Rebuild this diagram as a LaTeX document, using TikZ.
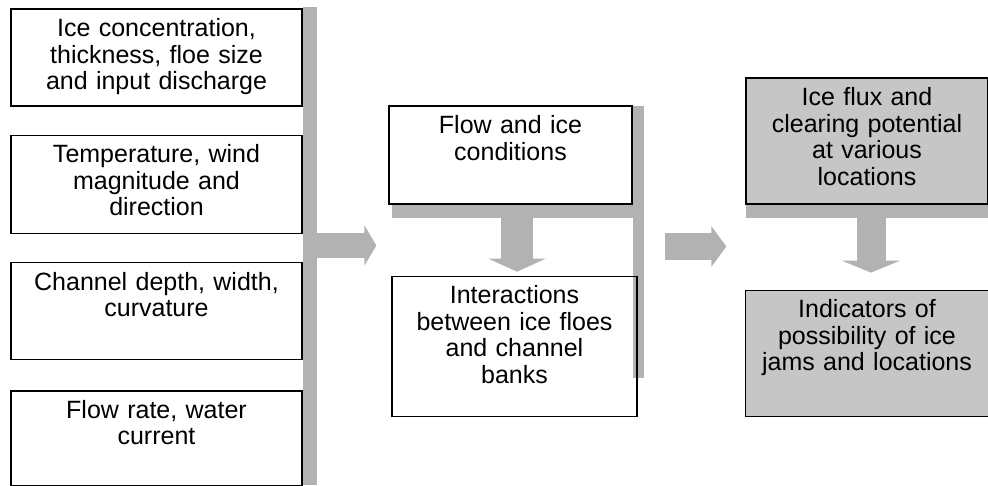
\documentclass[tikz,border=0pt]{standalone}
\usepackage{fontspec}
\setmainfont{Liberation Sans}
\usepackage{tikz}
\usetikzlibrary{positioning, calc, arrows.meta}

\begin{document}
\begin{tikzpicture}[x=1pt, y=-1pt,
    box/.style={draw, line width=1.3pt, inner sep=0pt, align=center,
        text height=27.5pt, font=\fontsize{25}{26.5}\selectfont},
    inbox/.style={box, text width=291pt},
    midbox/.style={box, text width=243pt},
    outbox/.style={box, fill=gray!45, text width=242pt},
    shade/.style={fill=gray!60},
    bigarrow/.style={draw=gray!60, fill=gray!60}
]
    % Frame
    \useasboundingbox (0,0) rectangle (988,485);

    % Shadow bars
    \fill[shade] (303,7) rectangle (317,485);
    \fill[shade] (392,205) rectangle (644,218);
    \fill[shade] (633,106) rectangle (644,378);
    \fill[shade] (746,205) rectangle (988,218);

    % Input boxes
    \node[inbox, text depth=69.5pt] (ice) at (156.5,57.5) {Ice concentration,\\ thickness, floe size\\ and input discharge};
    \node[inbox, text depth=70.5pt, below=28pt of ice] (temp) {Temperature, wind\\ magnitude and\\ direction};
    \node[inbox, text depth=69.5pt, below=28pt of temp] (chan) {Channel depth, width,\\ curvature};
    \node[inbox, text depth=67.5pt, below=30pt of chan] (rate) {Flow rate, water\\ current};

    % Middle boxes
    \node[midbox, text depth=70.5pt] (flow) at (510.5,155) {Flow and ice\\ conditions};
    \node[midbox, text width=245pt, text depth=112.5pt, below=71pt of flow, xshift=4pt] (interact) {Interactions\\ between ice floes\\ and channel\\ banks};

    % Output boxes
    \node[outbox, text depth=98.5pt] (flux) at (867,141) {Ice flux and\\ clearing potential\\ at various\\ locations};
    \node[outbox, text width=243pt, text depth=98.5pt, below=85pt of flux] (indic) {Indicators of\\ possibility of ice\\ jams and locations};

    % Arrows
    \coordinate (inbar) at (317,245.5);
    \coordinate (midbar) at (644,246.5);
    \coordinate (flowfoot) at (517,218);
    \coordinate (fluxfoot) at (871,218);
    \draw[bigarrow, line width=25pt, -{Triangle[length=12pt,width=40pt]}, shorten >=12pt] (inbar) -- (inbar -| flow.west);
    \draw[bigarrow, line width=27pt, -{Triangle[length=15pt,width=40pt]}, shorten <=21pt, shorten >=19pt] (midbar) -- (midbar -| flux.west);
    \draw[bigarrow, line width=32pt, -{Triangle[length=13pt,width=57pt]}, shorten >=4pt] (flowfoot) -- (flowfoot |- interact.north);
    \draw[bigarrow, line width=29pt, -{Triangle[length=12pt,width=58pt]}, shorten >=17pt] (fluxfoot) -- (fluxfoot |- indic.north);

\end{tikzpicture}
\end{document}
